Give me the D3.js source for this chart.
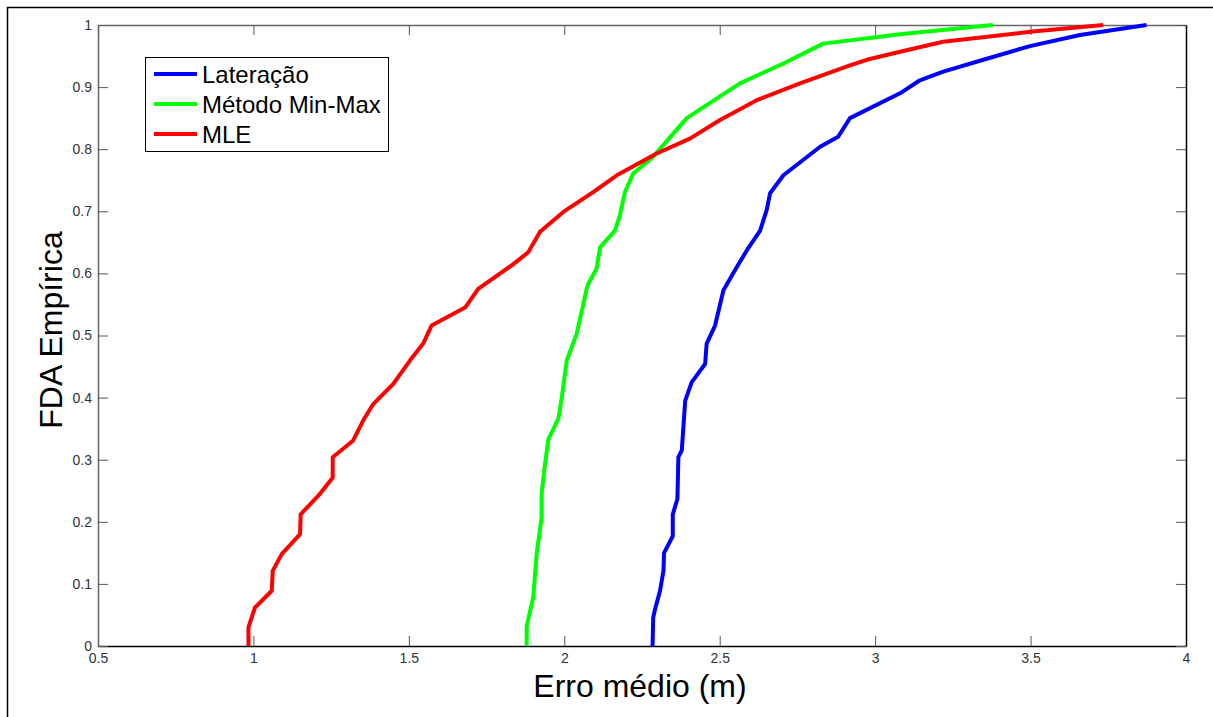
<!DOCTYPE html>
<html>
    <head>
        <meta charset="utf-8">
        <style>
            body {
                margin: 0;
                padding: 0;
                background: #fff;
            }

            svg text {
                font-family: "Liberation Sans", Arial, sans-serif;
            }

            .tick text {
                fill: #333;
                font-size: 14px;
            }

            .tick line {
                stroke: #555;
            }
        </style>
    </head>
    <body>
        <script src="https://d3js.org/d3.v7.min.js"></script>
        <script>

            const laterX = [2.284, 2.286, 2.292, 2.308, 2.319, 2.321, 2.349, 2.349, 2.364, 2.367, 2.378, 2.389, 2.410, 2.453, 2.458, 2.485, 2.512, 2.549, 2.587, 2.630, 2.651, 2.662, 2.705, 2.823, 2.881, 2.919, 3.080, 3.144, 3.219, 3.348, 3.498, 3.659, 3.873];
            const laterY = [0, 0.046, 0.059, 0.089, 0.121, 0.150, 0.177, 0.212, 0.237, 0.304, 0.315, 0.395, 0.425, 0.454, 0.487, 0.516, 0.573, 0.605, 0.637, 0.669, 0.702, 0.729, 0.758, 0.804, 0.82, 0.85, 0.89, 0.911, 0.925, 0.944, 0.966, 0.984, 1.0];

            const minmaxX = [1.879, 1.879, 1.900, 1.911, 1.927, 1.927, 1.938, 1.949, 1.981, 1.992, 2.008, 2.040, 2.072, 2.077, 2.104, 2.115, 2.163, 2.179, 2.195, 2.222, 2.286, 2.394, 2.565, 2.705, 2.833, 3.080, 3.379];
            const minmaxY = [0, 0.032, 0.078, 0.148, 0.207, 0.245, 0.293, 0.333, 0.366, 0.40, 0.46, 0.503, 0.575, 0.583, 0.608, 0.642, 0.669, 0.694, 0.731, 0.761, 0.788, 0.850, 0.906, 0.938, 0.970, 0.985, 1.0];

            const mleX = [0.984, 0.984, 1.005, 1.059, 1.062, 1.091, 1.150, 1.152, 1.214, 1.255, 1.255, 1.321, 1.353, 1.386, 1.450, 1.504, 1.546, 1.573, 1.681, 1.723, 1.831, 1.884, 1.922, 1.997, 2.093, 2.169, 2.297, 2.404, 2.501, 2.619, 2.758, 2.919, 2.973, 3.080, 3.219, 3.498, 3.734];
            const mleY = [0, 0.03, 0.062, 0.089, 0.121, 0.148, 0.18, 0.212, 0.245, 0.271, 0.304, 0.331, 0.363, 0.39, 0.422, 0.46, 0.487, 0.516, 0.545, 0.575, 0.613, 0.634, 0.667, 0.699, 0.731, 0.758, 0.793, 0.817, 0.847, 0.879, 0.906, 0.935, 0.944, 0.957, 0.973, 0.989, 1.0];

            const seriesNames = ["Lateração", "Método Min-Max", "MLE"];
            const seriesColors = ["#0000ff", "#00ff00", "#ff0000"];

            const xTicks = [0.5, 1, 1.5, 2, 2.5, 3, 3.5, 4];
            const yTicks = [0, 0.1, 0.2, 0.3, 0.4, 0.5, 0.6, 0.7, 0.8, 0.9, 1];

            const W = 1213, H = 717;
            const plotL = 98, plotR = 1186, plotT = 25, plotB = 646;

            const svg = d3.select("body")
            .append("svg")
            .attr("width", W)
            .attr("height", H);

            // figure frame (only top and left edges show in the picture)
            svg.append("rect")
            .attr("x", 7.5)
            .attr("y", 7.5)
            .attr("width", W + 20)
            .attr("height", H + 20)
            .attr("fill", "#fff")
            .attr("stroke", "#000")
            .attr("stroke-width", 1.5);

            const x = d3.scaleLinear().domain([0.5, 4]).range([plotL, plotR]);
            const y = d3.scaleLinear().domain([0, 1]).range([plotB, plotT]);

            const fmt = d => String(d);

            svg.append("g")
            .attr("transform", `translate(0,${plotB})`)
            .call(d3.axisBottom(x).tickValues(xTicks).tickFormat(fmt).tickSizeInner(-10).tickSizeOuter(0).tickPadding(7))
            .call(g => g.select(".domain").attr("stroke", "#000").attr("stroke-width", 1.5));

            svg.append("g")
            .attr("transform", `translate(${plotL},0)`)
            .call(d3.axisLeft(y).tickValues(yTicks).tickFormat(fmt).tickSizeInner(-10).tickSizeOuter(0).tickPadding(6))
            .call(g => g.select(".domain").attr("stroke", "#666").attr("stroke-width", 1.5));

            svg.append("g")
            .attr("transform", `translate(0,${plotT})`)
            .call(d3.axisTop(x).tickValues(xTicks).tickFormat("").tickSizeInner(-10).tickSizeOuter(0))
            .call(g => g.select(".domain").attr("stroke", "#666").attr("stroke-width", 1.5));

            svg.append("g")
            .attr("transform", `translate(${plotR},0)`)
            .call(d3.axisRight(y).tickValues(yTicks).tickFormat("").tickSizeInner(-10).tickSizeOuter(0))
            .call(g => g.select(".domain").attr("stroke", "#000").attr("stroke-width", 1.5));

            svg.selectAll("g").attr("font-family", null).attr("font-size", null);

            const line = d3.line()
            .x(d => x(d[0]))
            .y(d => y(d[1]));

            const series = [
                laterX.map((v, i) => [v, laterY[i]]),
                minmaxX.map((v, i) => [v, minmaxY[i]]),
                mleX.map((v, i) => [v, mleY[i]])
            ];

            svg.selectAll("path.curve")
            .data(series)
            .enter()
            .append("path")
            .attr("class", "curve")
            .attr("d", line)
            .attr("fill", "none")
            .attr("stroke", (d, i) => seriesColors[i])
            .attr("stroke-width", 4)
            .attr("stroke-linejoin", "round");

            // axis titles
            svg.append("text")
            .attr("x", 640)
            .attr("y", 697)
            .attr("text-anchor", "middle")
            .style("font-size", "32px")
            .text("Erro médio (m)");

            svg.append("text")
            .attr("transform", "translate(62,330) rotate(-90)")
            .attr("text-anchor", "middle")
            .style("font-size", "32px")
            .text("FDA Empírica");

            // legend
            const legend = svg.append("g").attr("id", "legend");

            legend.append("rect")
            .attr("x", 145.5)
            .attr("y", 57.5)
            .attr("width", 243)
            .attr("height", 94)
            .attr("fill", "#fff")
            .attr("stroke", "#000")
            .attr("stroke-width", 1);

            const rowY = d3.scalePoint().domain(seriesNames).range([74, 134]);

            legend.selectAll("line")
            .data(seriesNames)
            .enter()
            .append("line")
            .attr("x1", 154)
            .attr("x2", 197)
            .attr("y1", d => rowY(d))
            .attr("y2", d => rowY(d))
            .attr("stroke", (d, i) => seriesColors[i])
            .attr("stroke-width", 4);

            legend.selectAll("text")
            .data(seriesNames)
            .enter()
            .append("text")
            .attr("x", 202)
            .attr("y", d => rowY(d) + 9)
            .style("font-size", "24px")
            .text(d => d);

        </script>
    </body>
</html>
